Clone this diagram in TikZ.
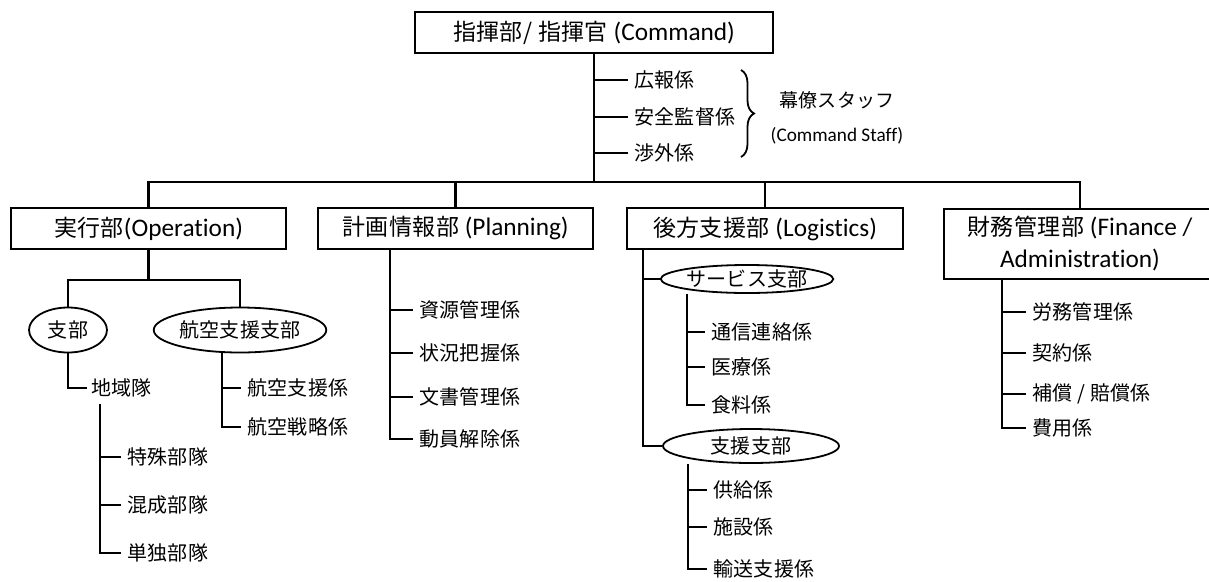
\documentclass[tikz,border=0pt]{standalone}
\usepackage{fontspec}
\setmainfont{Noto Sans CJK JP}[LetterSpace=2]
\newfontfamily\en{Carlito}[Scale=1.1,Ligatures=NoCommon]
\usetikzlibrary{shapes.geometric,decorations.pathreplacing,calc}

\begin{document}
\begin{tikzpicture}[x=1pt,y=-1pt,line width=2.2pt,
    unit/.style={draw,minimum height=41pt,inner sep=0pt,font=\fontsize{23}{32}\selectfont},
    oval/.style={draw,ellipse,inner sep=0pt,line width=1.8pt,font=\fontsize{20}{22}\selectfont},
    item/.style={anchor=west,inner sep=5pt,font=\fontsize{20}{22}\selectfont}]
\useasboundingbox (0,0) rectangle (1209,581);
%\draw[help lines] (0,0) grid[step=50] (1209,581);
% command and its staff
\node[unit,minimum width=358pt] (cmd) at (594,32.5) {指揮部/ 指揮官 {\en(Command)}};
\coordinate (bus) at (594,182);
\draw (cmd.south) -- (bus);
\node[item] (s1) at (628,80) {広報係};
\node[item] (s2) at (628,117) {安全監督係};
\node[item] (s3) at (628,153) {渉外係};
\foreach \s in {s1,s2,s3}
    \draw (\s.west -| cmd.south) -- (\s.west);
\draw[decorate,decoration={brace,amplitude=13pt},line width=1.8pt] (741,70) -- (741,157);
\node[align=center,font=\fontsize{19}{22}\selectfont] (staff) at (837,118)
    {幕僚スタッフ\\[12pt]{\fontsize{17.5}{20}\selectfont\en (Command Staff)}};

% sections
\node[unit,minimum width=275pt] (ops) at (148.5,228.5) {実行部{\en(Operation)}};
\node[unit,minimum width=275pt] (plan) at (455.5,228.5) {計画情報部 {\en(Planning)}};
\node[unit,minimum width=276pt] (logi) at (765,228.5) {後方支援部 {\en(Logistics)}};
\node[unit,minimum width=272pt,minimum height=70pt,align=center] (fin) at (1080,244)
    {財務管理部 {\en(Finance /}\\{\en Administration)}};
\draw (ops.north) |- (bus) -| (fin.north);
\draw (plan.north) -- (plan.north |- bus);
\draw (logi.north) -- (logi.north |- bus);

% operation
\coordinate (opsfork) at ([yshift=-30pt]ops.south);
\node[oval,minimum width=78pt,minimum height=45pt] (br) at (68,330) {支部};
\node[oval,minimum width=160pt,minimum height=45pt] (air) at (240,330) {航空支援支部};
\draw (ops.south) -- (opsfork);
\draw (br.north) |- (opsfork) -| (air.north);
\node[item,inner sep=3pt] (area) at (87,388) {地域隊};
\draw (br.south) |- (area.west);
\coordinate (areatrunk) at ([xshift=13pt,yshift=-3pt]area.south west);
\node[item] (u1) at (121,457) {特殊部隊};
\node[item] (u2) at (121,505) {混成部隊};
\node[item] (u3) at (121,553) {単独部隊};
\draw (areatrunk) |- (u3.west);
\foreach \u in {u1,u2}
    \draw (\u.west -| areatrunk) -- (\u.west);
\coordinate (airtrunk) at ([xshift=-18pt]air.south);
\node[item] (a1) at (241,388) {航空支援係};
\node[item] (a2) at (241,427) {航空戦略係};
\draw (airtrunk) |- (a2.west);
\draw (a1.west -| airtrunk) -- (a1.west);

% planning
\coordinate (plantrunk) at ([xshift=73pt]plan.south west);
\node[item] (p1) at (413,310) {資源管理係};
\node[item] (p2) at (413,353) {状況把握係};
\node[item] (p3) at (413,397) {文書管理係};
\node[item] (p4) at (413,439) {動員解除係};
\draw (plantrunk) |- (p4.west);
\foreach \p in {p1,p2,p3}
    \draw (\p.west -| plantrunk) -- (\p.west);

% logistics
\coordinate (logitrunk) at ([xshift=17pt]logi.south west);
\node[oval,minimum width=167pt,minimum height=28pt] (svc) at (747,279) {サービス支部};
\node[oval,minimum width=176pt,minimum height=34pt] (sup) at (751,446) {支援支部};
\draw (logitrunk) |- (sup.west);
\draw (svc.west -| logitrunk) -- (svc.west);
\coordinate (svctrunk) at ([xshift=-60pt]svc.south);
\node[item] (c1) at (705,332) {通信連絡係};
\node[item] (c2) at (705,367) {医療係};
\node[item] (c3) at (705,405) {食料係};
\draw (svctrunk) |- (c3.west);
\foreach \c in {c1,c2}
    \draw (\c.west -| svctrunk) -- (\c.west);
\coordinate (suptrunk) at ([xshift=-63pt]sup.south);
\node[item] (d1) at (707,490) {供給係};
\node[item] (d2) at (707,527) {施設係};
\node[item] (d3) at (707,569) {輸送支援係};
\draw (suptrunk) |- (d3.west);
\foreach \d in {d1,d2}
    \draw (\d.west -| suptrunk) -- (\d.west);

% finance
\coordinate (fintrunk) at ([xshift=59pt]fin.south west);
\node[item] (f1) at (1026,312) {労務管理係};
\node[item] (f2) at (1026,353) {契約係};
\node[item] (f3) at (1026,394) {補償 / 賠償係};
\node[item] (f4) at (1026,428) {費用係};
\draw (fintrunk) |- (f4.west);
\foreach \f in {f1,f2,f3}
    \draw (\f.west -| fintrunk) -- (\f.west);
\end{tikzpicture}
\end{document}
